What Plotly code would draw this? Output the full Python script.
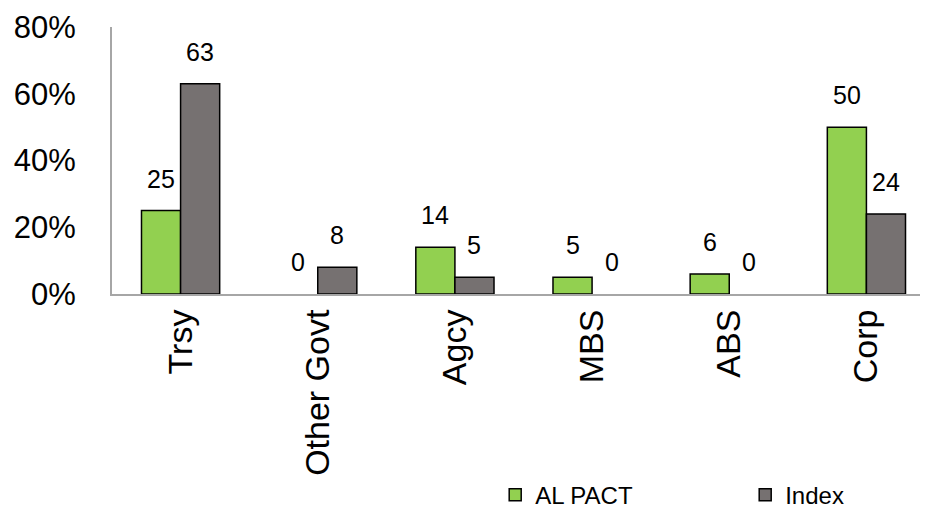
import plotly.graph_objects as go

categories = ["Trsy", "Other Govt", "Agcy", "MBS", "ABS", "Corp"]
al_pact = [25, 0, 14, 5, 6, 50]
index_vals = [63, 8, 5, 0, 0, 24]
y_ticks = [0, 0.2, 0.4, 0.6, 0.8]

fig = go.Figure()
fig.add_trace(go.Bar(
    x=categories, y=[v / 100 for v in al_pact], name="AL PACT",
    marker=dict(color="#92D050",
                line=dict(color="black", width=[1.5 if v else 0 for v in al_pact])),
))
fig.add_trace(go.Bar(
    x=categories, y=[v / 100 for v in index_vals], name="Index",
    marker=dict(color="#767171",
                line=dict(color="black", width=[1.5 if v else 0 for v in index_vals])),
))

half_bar = 19.5
for series, shift in ((al_pact, -half_bar), (index_vals, half_bar)):
    for cat, v in zip(categories, series):
        fig.add_annotation(x=cat, y=v / 100, text=str(v), showarrow=False,
                           xshift=shift, yshift=16, yanchor="bottom",
                           font=dict(size=25, color="black"))

fig.update_layout(
    width=928, height=509,
    margin=dict(l=104, r=1, t=19, b=223, autoexpand=False),
    paper_bgcolor="white", plot_bgcolor="white",
    font=dict(family="Liberation Sans, Arial, sans-serif", color="black"),
    barmode="group", bargap=0.43, bargroupgap=0,
    showlegend=True,
    legend=dict(orientation="h", x=0.525, xref="container", xanchor="left",
                y=0.043, yref="container", yanchor="middle",
                font=dict(size=24), entrywidth=205, entrywidthmode="pixels",
                bgcolor="rgba(0,0,0,0)", tracegroupgap=0),
)
fig.update_yaxes(range=[0, 0.8], tickvals=y_ticks, tickformat=".0%",
                 showgrid=False, zeroline=False, showline=True,
                 linecolor="#A6A6A6", linewidth=2, ticks="",
                 tickfont=dict(size=31), ticklabelstandoff=28, automargin=False)
fig.update_xaxes(showline=True, linecolor="#A6A6A6", linewidth=2,
                 tickangle=-90, tickfont=dict(size=34), ticks="", showgrid=False,
                 automargin=False)

fig.write_html("out.html")
